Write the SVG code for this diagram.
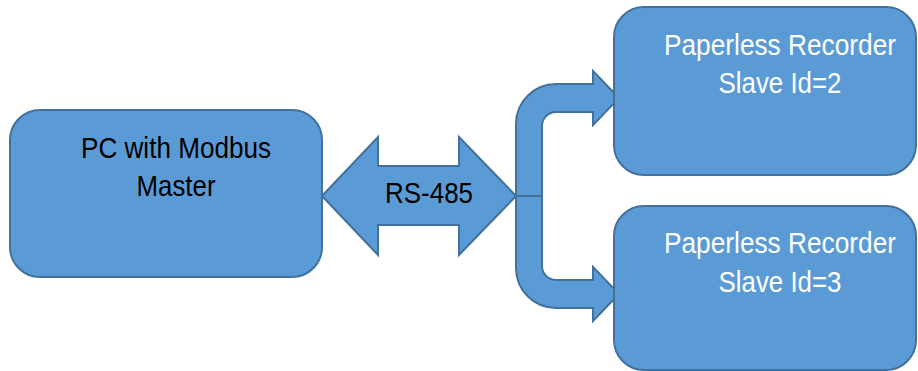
<svg xmlns="http://www.w3.org/2000/svg" width="918" height="371" viewBox="0 0 918 371">
<style>
.box{fill:#5B9BD5;stroke:#41719C;stroke-width:2}
.conn{fill:#5B9BD5;stroke:#41719C;stroke-width:2;stroke-linejoin:miter}
.t{font-family:"Liberation Sans",Arial,sans-serif;font-size:30px;text-anchor:middle}
.dark{fill:#000}
.light{fill:#fff}
</style>
<rect width="918" height="371" fill="#fff"/>
<g id="connectors">
<polygon class="conn" points="322,196 378,137 378,166 459,166 459,137 516,196 459,255 459,225 378,225 378,255"/>
<text class="t dark" x="429" y="203" textLength="88" lengthAdjust="spacingAndGlyphs">RS-485</text>
<path class="conn" d="M593,84 L593,71 L619,98 L593,125 L593,112 L556,112 A14,14 0 0 0 542,126 L542,266 A14,14 0 0 0 556,280 L593,280 L593,267 L619,294 L593,321 L593,308 L556,308 A40,40 0 0 1 516,268 L516,124 A40,40 0 0 1 556,84 Z"/>
<line x1="516" y1="196" x2="542" y2="196" stroke="#41719C" stroke-width="2"/>
</g>
<g id="pc">
<rect class="box" x="10" y="110" width="312" height="167" rx="30" ry="30"/>
<text class="t dark" x="176" y="158" textLength="190" lengthAdjust="spacingAndGlyphs">PC with Modbus</text>
<text class="t dark" x="176" y="196" textLength="79" lengthAdjust="spacingAndGlyphs">Master</text>
</g>
<g id="slave2">
<rect class="box" x="614" y="7" width="302" height="168" rx="30" ry="30"/>
<text class="t light" x="780" y="55" textLength="232" lengthAdjust="spacingAndGlyphs">Paperless Recorder</text>
<text class="t light" x="780" y="93" textLength="123" lengthAdjust="spacingAndGlyphs">Slave Id=2</text>
</g>
<g id="slave3">
<rect class="box" x="614" y="206" width="302" height="164" rx="30" ry="30"/>
<text class="t light" x="780" y="253" textLength="232" lengthAdjust="spacingAndGlyphs">Paperless Recorder</text>
<text class="t light" x="780" y="292" textLength="123" lengthAdjust="spacingAndGlyphs">Slave Id=3</text>
</g>
</svg>
